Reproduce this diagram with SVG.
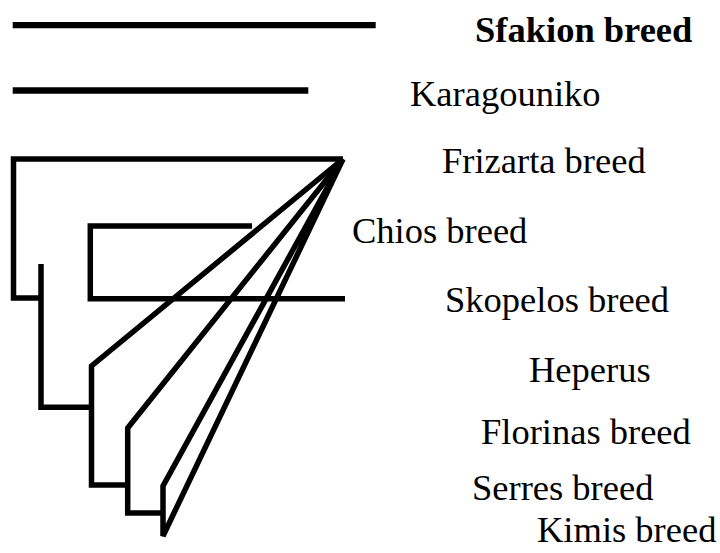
<svg xmlns="http://www.w3.org/2000/svg" width="720" height="553" viewBox="0 0 720 553">
<style>
.lbl{font-family:"Liberation Serif","Times New Roman",serif;font-size:36.5px;fill:#000}
.b{font-weight:bold}
.br{fill:none;stroke:#000;stroke-width:5.5;stroke-linejoin:miter;stroke-linecap:butt}
.top{fill:none;stroke:#000;stroke-width:6.3;stroke-linecap:butt}
</style>
<rect width="720" height="553" fill="#fff"/>
<g id="connectors">
<line class="top" x1="12.7" y1="25.2" x2="375.7" y2="25.2"/>
<line class="top" x1="12.7" y1="90.5" x2="308.3" y2="90.5"/>
<path class="br" d="M343,159 H13.5 V298 H41"/>
<path class="br" d="M41,264 V407.3 H91.5"/>
<path class="br" d="M252,226 H90.3 V298.7 H345"/>
<path class="br" d="M343,159 L91.5,366 V485 H127.7"/>
<path class="br" d="M343,159 L127.7,428 V513 H163"/>
<path class="br" d="M343,159 L163,486 V536 L343,159"/>
</g>
<g id="sfakion"><text class="lbl b" x="475" y="42">Sfakion breed</text></g>
<g id="karagouniko"><text class="lbl" x="410" y="106">Karagouniko</text></g>
<g id="frizarta"><text class="lbl" x="442" y="173">Frizarta breed</text></g>
<g id="chios"><text class="lbl" x="352" y="243">Chios breed</text></g>
<g id="skopelos"><text class="lbl" x="445" y="312">Skopelos breed</text></g>
<g id="heperus"><text class="lbl" x="529" y="382">Heperus</text></g>
<g id="florinas"><text class="lbl" x="481" y="444">Florinas breed</text></g>
<g id="serres"><text class="lbl" x="472" y="500">Serres breed</text></g>
<g id="kimis"><text class="lbl" x="537" y="542">Kimis breed</text></g>
</svg>
